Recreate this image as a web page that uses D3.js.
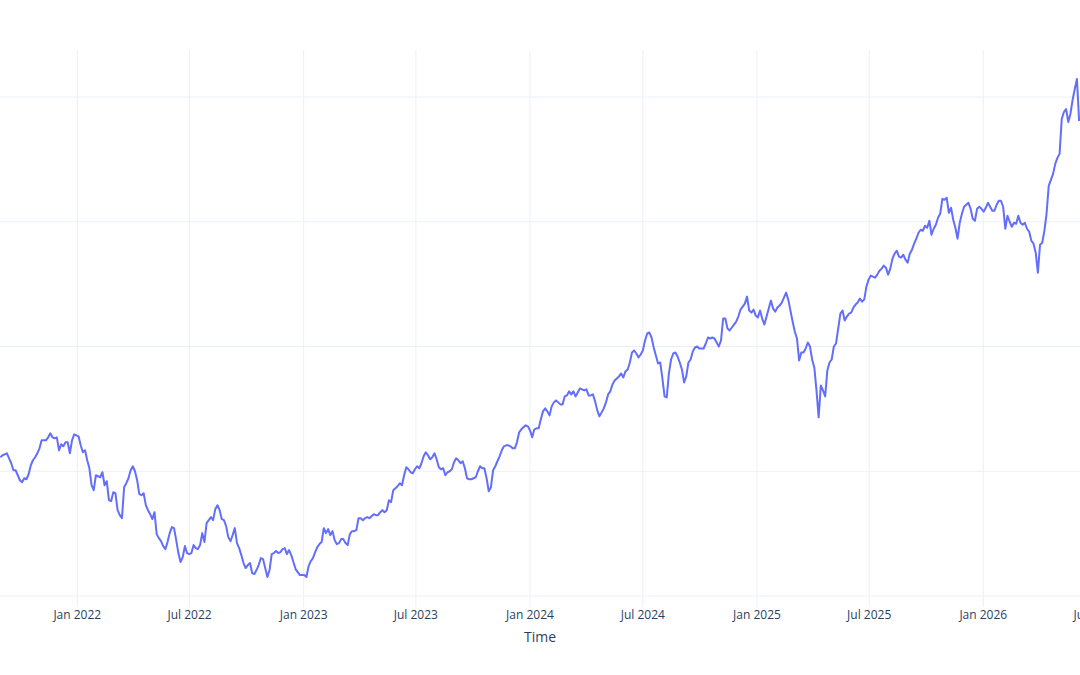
<!DOCTYPE html>
<html>
<head>
<meta charset="utf-8">
<script src="https://cdn.jsdelivr.net/npm/d3@7"></script>
<style>
  html, body { margin: 0; padding: 0; background: #fff; overflow: hidden; }
  svg { display: block; font-family: "Open Sans", "DejaVu Sans", sans-serif; }
</style>
</head>
<body>
<svg id="chart" width="1080" height="675"></svg>
<script>
// closes twice a week (every 3.5 days), first one on Mon 30 Aug 2021
const startDate = new Date(Date.UTC(2021, 7, 30));
const stepHours = 84;
const values = [
  1556, 1564, 1568, 1572, 1552, 1532, 1504, 1504, 1484, 1464,
  1456, 1472, 1468, 1488, 1524, 1544, 1556, 1572, 1592, 1624,
  1624, 1624, 1636, 1652, 1636, 1632, 1636, 1584, 1608, 1600,
  1616, 1616, 1572, 1624, 1648, 1644, 1640, 1604, 1576, 1584,
  1544, 1512, 1444, 1424, 1484, 1480, 1476, 1496, 1444, 1460,
  1384, 1380, 1416, 1412, 1344, 1324, 1312, 1436, 1452, 1472,
  1504, 1520, 1500, 1464, 1408, 1404, 1412, 1364, 1344, 1328,
  1308, 1336, 1248, 1232, 1220, 1200, 1188, 1216, 1252, 1276,
  1272, 1224, 1172, 1136, 1156, 1200, 1172, 1168, 1172, 1204,
  1192, 1188, 1204, 1252, 1216, 1292, 1304, 1316, 1304, 1348,
  1364, 1344, 1308, 1304, 1280, 1236, 1220, 1244, 1272, 1212,
  1192, 1164, 1132, 1112, 1124, 1132, 1092, 1088, 1104, 1124,
  1152, 1148, 1112, 1076, 1104, 1168, 1172, 1180, 1172, 1176,
  1188, 1192, 1168, 1184, 1164, 1136, 1108, 1096, 1084, 1084,
  1084, 1076, 1120, 1140, 1152, 1176, 1196, 1208, 1216, 1272,
  1252, 1268, 1244, 1260, 1224, 1208, 1212, 1228, 1228, 1212,
  1204, 1248, 1260, 1260, 1264, 1312, 1312, 1304, 1312, 1316,
  1312, 1320, 1328, 1324, 1324, 1336, 1344, 1336, 1344, 1384,
  1376, 1424, 1432, 1440, 1452, 1444, 1484, 1516, 1508, 1496,
  1492, 1508, 1520, 1512, 1532, 1560, 1576, 1564, 1548, 1556,
  1572, 1548, 1516, 1508, 1512, 1484, 1496, 1500, 1508, 1536,
  1552, 1544, 1532, 1540, 1512, 1472, 1468, 1468, 1472, 1476,
  1500, 1520, 1512, 1512, 1472, 1420, 1436, 1504, 1520, 1540,
  1560, 1584, 1600, 1604, 1604, 1600, 1592, 1592, 1616, 1656,
  1668, 1676, 1684, 1680, 1664, 1636, 1668, 1672, 1672, 1708,
  1740, 1752, 1740, 1724, 1760, 1776, 1784, 1776, 1768, 1768,
  1800, 1804, 1820, 1808, 1820, 1800, 1816, 1832, 1828, 1824,
  1828, 1804, 1804, 1808, 1780, 1744, 1720, 1736, 1752, 1776,
  1808, 1820, 1848, 1864, 1872, 1880, 1892, 1876, 1900, 1908,
  1936, 1976, 1984, 1972, 1956, 1968, 1984, 2024, 2052, 2056,
  2036, 1996, 1964, 1932, 1936, 1872, 1800, 1796, 1892, 1948,
  1972, 1976, 1960, 1936, 1908, 1856, 1880, 1936, 1948, 1980,
  1996, 2000, 1992, 1992, 1992, 2012, 2036, 2032, 2036, 2032,
  2016, 2000, 2024, 2112, 2112, 2072, 2064, 2076, 2088, 2100,
  2120, 2148, 2160, 2172, 2200, 2144, 2136, 2148, 2124, 2116,
  2144, 2112, 2088, 2120, 2152, 2184, 2152, 2140, 2156, 2164,
  2176, 2196, 2216, 2188, 2144, 2100, 2060, 2032, 1944, 1976,
  1976, 1992, 2016, 2000, 1948, 1916, 1824, 1716, 1844, 1824,
  1800, 1904, 1936, 1948, 2000, 2012, 2072, 2132, 2144, 2104,
  2120, 2132, 2136, 2156, 2168, 2176, 2192, 2180, 2188, 2240,
  2268, 2284, 2280, 2276, 2288, 2304, 2312, 2324, 2316, 2288,
  2312, 2352, 2372, 2384, 2360, 2356, 2368, 2348, 2336, 2372,
  2388, 2412, 2432, 2456, 2468, 2464, 2484, 2476, 2504, 2448,
  2472, 2488, 2516, 2532, 2592, 2588, 2596, 2536, 2556, 2508,
  2476, 2432, 2496, 2532, 2560, 2568, 2576, 2552, 2512, 2504,
  2552, 2560, 2552, 2540, 2556, 2576, 2560, 2544, 2544, 2568,
  2584, 2584, 2560, 2472, 2524, 2500, 2480, 2496, 2492, 2524,
  2496, 2488, 2496, 2472, 2460, 2424, 2412, 2376, 2296, 2408,
  2416, 2464, 2532, 2644, 2668, 2692, 2732, 2756, 2772, 2912,
  2940, 2952, 2900, 2932, 2988, 3032, 3072, 2904
];
const yTicks = [1000, 1500, 2000, 2500, 3000];
const xTickLabelFormat = "%b %Y";
const xTitle = "Time";

const data = values.map((v, i) => ({ date: d3.utcHour.offset(startDate, stepHours * i), value: v }));

const svg = d3.select("#chart");
const plotTop = 50, plotBottom = 607;

// plot is wider than the window, only part of it shows
const x = d3.scaleUtc()
    .domain([new Date(Date.UTC(2022, 0, 1)), new Date(Date.UTC(2026, 0, 1))])
    .range([77.3, 983.3]);

const y = d3.scaleLinear()
    .domain([1000, 3000])
    .range([596, 97]);

const gridColor = "#ebf0f8";

// vertical grid, every 6 months
const xTickDates = d3.utcMonth.every(6).range(new Date(Date.UTC(2021, 6, 1)), new Date(Date.UTC(2026, 7, 1)));

svg.append("g")
    .selectAll("line")
    .data(xTickDates)
    .join("line")
    .attr("x1", d => x(d)).attr("x2", d => x(d))
    .attr("y1", plotTop).attr("y2", plotBottom)
    .attr("stroke", gridColor)
    .attr("stroke-width", 1);

svg.append("g")
    .selectAll("line")
    .data(yTicks)
    .join("line")
    .attr("x1", 0).attr("x2", 1080)
    .attr("y1", d => y(d)).attr("y2", d => y(d))
    .attr("stroke", gridColor)
    .attr("stroke-width", 1);

svg.append("clipPath")
    .attr("id", "plot-clip")
    .append("rect")
    .attr("x", -200).attr("y", plotTop)
    .attr("width", 1500).attr("height", plotBottom - plotTop);

const line = d3.line()
    .x(d => x(d.date))
    .y(d => y(d.value));

svg.append("path")
    .datum(data)
    .attr("clip-path", "url(#plot-clip)")
    .attr("fill", "none")
    .attr("stroke", "#636efa")
    .attr("stroke-width", 2)
    .attr("stroke-linejoin", "round")
    .attr("d", line);

// tick labels (the Jul 2021 one sits fully outside the window)
const fmt = d3.utcFormat(xTickLabelFormat);
svg.append("g")
    .selectAll("text")
    .data(xTickDates.filter(d => x(d) > 0))
    .join("text")
    .attr("x", d => x(d))
    .attr("y", 619)
    .attr("text-anchor", "middle")
    .attr("font-size", 12)
    .attr("fill", "#2a3f5f")
    .text(d => fmt(d));

svg.append("text")
    .attr("x", 540)
    .attr("y", 642)
    .attr("text-anchor", "middle")
    .attr("font-size", 14)
    .attr("fill", "#2a3f5f")
    .text(xTitle);
</script>
</body>
</html>
